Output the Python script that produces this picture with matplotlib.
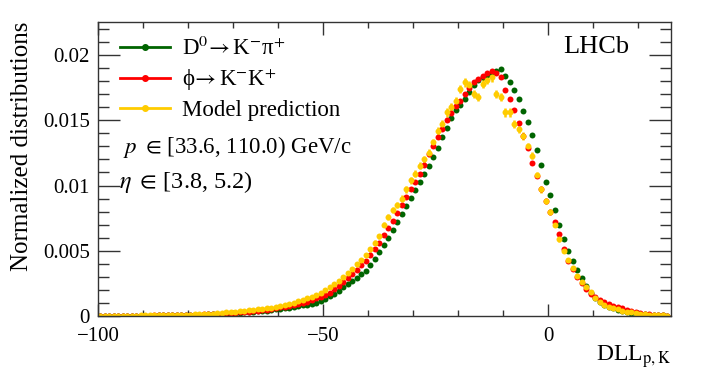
import numpy as np
import matplotlib
matplotlib.use("Agg")
import matplotlib.pyplot as plt
from matplotlib.lines import Line2D
from matplotlib.ticker import MultipleLocator

plt.rcParams["font.family"] = ["Liberation Serif", "DejaVu Serif"]
plt.rcParams["mathtext.fontset"] = "stix"

# bin centres of DLL(p,K), 1-unit bins from -100 to 27
bin_lo = -100
bin_width = 1.0

# normalized distributions, in units of 1e-5
d0_kpi = [
    1, 1, 1, 1, 1, 1, 2, 2, 2, 2, 3, 3, 3, 4, 4, 4, 5, 5, 6, 7,
    8, 9, 10, 11, 12, 13, 14, 16, 18, 20,
    22, 24, 27, 29, 32, 35, 38, 42, 46, 50,
    55, 60, 65, 70, 76, 82, 88, 95, 103, 112,
    130, 150, 172, 195, 220, 245, 268, 295, 322, 348,
    390, 440, 490, 545, 600, 660, 720, 780, 840, 905,
    965, 1025, 1085, 1150, 1215, 1290, 1370, 1440, 1520, 1580,
    1620, 1665, 1720, 1770, 1810, 1835, 1850, 1865, 1880, 1895,
    1840, 1790, 1730, 1660, 1570, 1490, 1390, 1270, 1160, 1030,
    930, 815, 700, 590, 500, 420, 350, 290, 230, 180,
    135, 105, 85, 70, 58, 48, 40, 32, 26, 20,
    16, 12, 9, 7, 5, 4, 3,
]
phi_kk = [
    1, 1, 1, 1, 2, 2, 2, 2, 2, 3, 3, 3, 4, 4, 4, 5, 5, 6, 7, 8,
    9, 10, 11, 12, 13, 15, 16, 18, 20, 22,
    24, 27, 30, 33, 36, 40, 44, 49, 54, 60,
    66, 72, 78, 85, 92, 100, 110, 122, 135, 148,
    160, 180, 205, 230, 258, 288, 320, 352, 388, 425,
    465, 510, 560, 620, 675, 730, 790, 850, 910, 970,
    1030, 1090, 1160, 1240, 1300, 1370, 1430, 1500, 1555, 1610,
    1650, 1700, 1745, 1790, 1815, 1840, 1860, 1875, 1860, 1830,
    1730, 1660, 1580, 1480, 1380, 1290, 1170, 1070, 970, 880,
    800, 720, 630, 510, 420, 360, 300, 250, 205, 170,
    145, 122, 104, 90, 78, 68, 58, 48, 40, 32,
    25, 19, 14, 10, 7, 5, 3,
]
model = [
    2, 2, 2, 2, 2, 3, 3, 3, 3, 4, 4, 4, 5, 5, 6, 6, 7, 8, 9, 10,
    11, 12, 13, 15, 17, 19, 21, 24, 27, 30,
    33, 36, 40, 44, 48, 52, 56, 60, 65, 70,
    78, 86, 94, 103, 113, 123, 135, 148, 162, 180,
    200, 222, 246, 272, 300, 330, 362, 395, 430, 468,
    510, 560, 610, 700, 760, 810, 850, 900, 970, 1040,
    1090, 1150, 1200, 1250, 1330, 1420, 1470, 1560, 1600, 1650,
    1740, 1790, 1770, 1700, 1680, 1780, 1810, 1830, 1700, 1680,
    1560, 1560, 1470, 1430, 1380, 1300, 1230, 1080, 970, 880,
    800, 700, 590, 500, 430, 370, 310, 260, 220, 185,
    140, 110, 88, 72, 60, 50, 41, 34, 28, 22,
    17, 13, 10, 8, 6, 4, 3,
]

labels = [r"D$^{0}\!\rightarrow$K$^{-}$π$^{+}$",
          r"ϕ$\!\rightarrow$K$^{-}$K$^{+}$",
          "Model prediction"]
colors = ["#006400", "#ff0000", "#ffcc00"]
err_scale = [0.0004, 0.0011, 0.0025]

fig = plt.figure(figsize=(7.06, 3.77), dpi=100)
ax = fig.add_axes([0.1388, 0.1618, 0.8116, 0.7798])

for vals, c, k in zip([d0_kpi, phi_kk, model], colors, err_scale):
    y = np.array(vals) * 1e-5
    x = bin_lo + bin_width * (np.arange(len(y)) + 0.5)
    ax.errorbar(x, y, yerr=k * np.sqrt(y), fmt="o", color=c, ms=4.3,
                mew=0, elinewidth=1.8, capsize=0)

ax.set_xlim(-100, 27.3)
ax.set_ylim(0, 0.02253)
ax.xaxis.set_major_locator(MultipleLocator(50))
ax.xaxis.set_minor_locator(MultipleLocator(10))
ax.yaxis.set_major_locator(MultipleLocator(0.005))
ax.yaxis.set_minor_locator(MultipleLocator(0.001))
ax.set_yticks([0, 0.005, 0.01, 0.015, 0.02], ["0", "0.005", "0.01", "0.015", "0.02"])
ax.tick_params(which="both", direction="in", top=True, right=True,
               labelsize=15, color="#333333", width=1)
ax.tick_params(axis="x", which="major", length=9, pad=8)
ax.tick_params(axis="x", which="minor", length=4.5)
ax.tick_params(axis="y", which="major", length=16, pad=6)
ax.tick_params(axis="y", which="minor", length=8)
for s in ax.spines.values():
    s.set_color("#333333")
    s.set_linewidth(1)

handles = [Line2D([0], [0], color=c, marker="o", ms=4, lw=2) for c in colors]
ax.legend(handles, labels, loc="upper left", bbox_to_anchor=(0.038, 0.95),
          frameon=False, borderaxespad=0, borderpad=0, fontsize=16.5,
          handlelength=2.2, handletextpad=0.5, labelspacing=0.3)

ax.text(0.043, 0.575, r"$p\ \in\,$[33.6, 110.0) GeV/c", transform=ax.transAxes,
        fontsize=16.5, va="center", ha="left")
ax.text(0.036, 0.456, r"$\eta\ \in\,$[3.8, 5.2)", transform=ax.transAxes,
        fontsize=17.5, va="center", ha="left")
ax.text(0.928, 0.915, "LHCb", transform=ax.transAxes, fontsize=19,
        ha="right", va="center")

fig.text(22 / 706, (377 - 22) / 377, "Normalized distributions", rotation=90,
         ha="center", va="top", fontsize=18)
fig.text(0.9504, 16 / 377, r"DLL$_{\mathrm{p,K}}$", ha="right",
         va="baseline", fontsize=17)

fig.savefig("out.png", dpi=100)
